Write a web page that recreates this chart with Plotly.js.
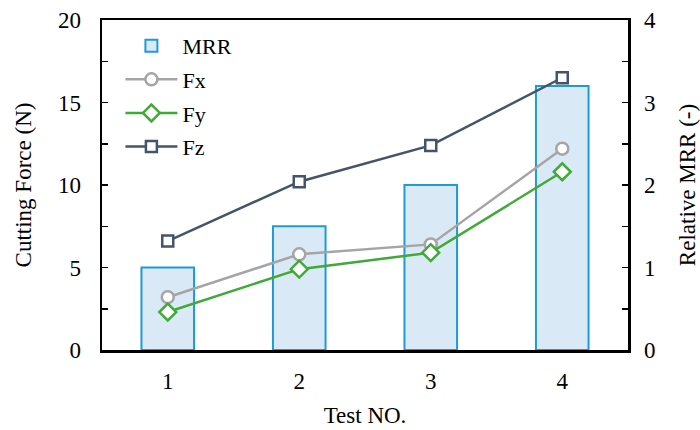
<!DOCTYPE html>
<html><head><meta charset="utf-8">
<script src="https://cdn.plot.ly/plotly-3.0.1.min.js"></script>
<style>html,body{margin:0;padding:0;background:#fff}#c{width:700px;height:430px}</style>
</head><body><div id="c"></div>
<script>
const tests = [1, 2, 3, 4];
const mrr = [1.0, 1.5, 2.0, 3.2];
const fx = [3.2, 5.8, 6.4, 12.2];
const fy = [2.3, 4.9, 5.9, 10.8];
const fz = [6.6, 10.2, 12.4, 16.5];

const FONT = 'Liberation Serif, Cambria, serif';
const TF = {family:FONT, size:23, color:'#000'};
const traces = [
  {type:'bar', name:'MRR', x:tests, y:mrr, yaxis:'y', width:0.4,
   marker:{color:'#DAE9F6', line:{color:'#1C9BD8', width:2}}, legendgroup:'a'},
  {type:'scatter', mode:'lines+markers', name:'Fx', x:tests, y:fx, yaxis:'y2',
   line:{color:'#A5A5A5', width:2.5}, marker:{symbol:'circle', size:12, color:'#fff', line:{color:'#A5A5A5', width:2.5}}, legendgroup:'b'},
  {type:'scatter', mode:'lines+markers', name:'Fy', x:tests, y:fy, yaxis:'y2',
   line:{color:'#3FAA36', width:2.5}, marker:{symbol:'diamond', size:13, color:'#fff', line:{color:'#3FAA36', width:2.5}}, legendgroup:'c'},
  {type:'scatter', mode:'lines+markers', name:'Fz', x:tests, y:fz, yaxis:'y2',
   line:{color:'#44546A', width:2.5}, marker:{symbol:'square', size:11, color:'#fff', line:{color:'#44546A', width:2.5}}, legendgroup:'d'}
];
const layout = {
  width:700, height:430,
  margin:{l:102, r:72, t:20, b:80},
  paper_bgcolor:'#fff', plot_bgcolor:'#fff',
  font:{family:FONT, size:22, color:'#000'},
  showlegend:true,
  legend:{x:0.035, y:0.985, xanchor:'left', yanchor:'top', bgcolor:'rgba(0,0,0,0)', tracegroupgap:2, itemwidth:52, font:{family:FONT, size:22}},
  xaxis:{range:[0.5,4.5], tickvals:tests, ticks:'', showline:true, linecolor:'#000', linewidth:2.5, mirror:true,
         showgrid:false, zeroline:false, ticklabelstandoff:9, tickfont:TF,
         title:{text:'Test NO.', font:{family:FONT, size:23}, standoff:14}},
  yaxis:{side:'right', range:[0,4], dtick:1, ticks:'inside', ticklen:6, tickwidth:1.5, tickcolor:'#000', tickfont:TF,
         minor:{dtick:0.5, ticks:'inside', ticklen:6, tickwidth:1.5, tickcolor:'#000', showgrid:false},
         showline:true, linecolor:'#000', linewidth:2.5, showgrid:false, zeroline:false, ticklabelstandoff:9,
         title:{text:'Relative MRR (-)', font:{family:FONT, size:23}, standoff:24}},
  yaxis2:{overlaying:'y', side:'left', range:[0,20], dtick:5, ticks:'inside', ticklen:6, tickwidth:1.5, tickcolor:'#000', tickfont:TF,
         minor:{dtick:2.5, ticks:'inside', ticklen:6, tickwidth:1.5, tickcolor:'#000', showgrid:false},
         showline:true, linecolor:'#000', linewidth:2.5, showgrid:false, zeroline:false, ticklabelstandoff:14,
         title:{text:'Cutting Force (N)', font:{family:FONT, size:23}, standoff:20}}
};
Plotly.newPlot('c', traces, layout, {staticPlot:true});
</script></body></html>
